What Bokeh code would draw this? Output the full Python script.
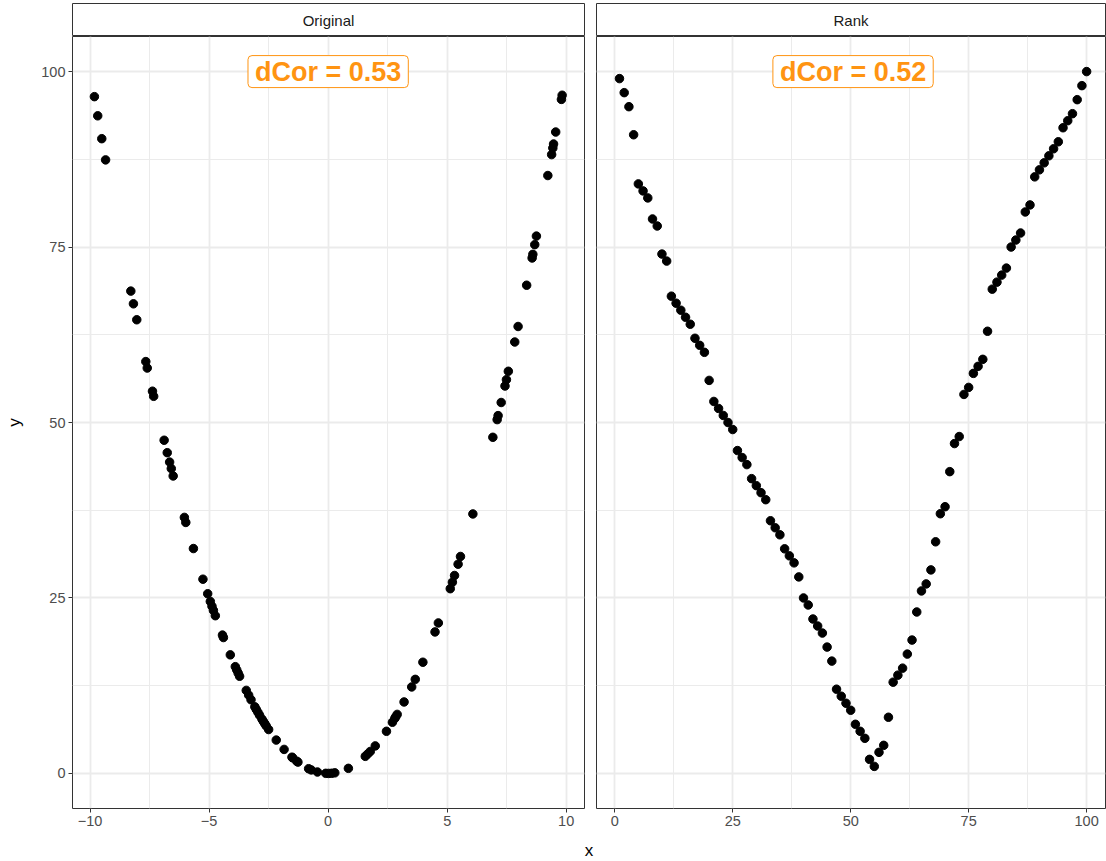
from bokeh.plotting import figure
from bokeh.layouts import row, column
from bokeh.models import Range1d, FixedTicker, Label, Grid
from bokeh.embed import file_html
from bokeh.resources import INLINE

# ---------------- data ----------------
x_orig = [-9.82, -9.68, -9.51, -9.35, -8.29, -8.18, -8.04, -7.66, -7.60, -7.38,
          -7.33, -6.89, -6.76, -6.66, -6.59, -6.51, -6.04, -5.98, -5.66, -5.26,
          -5.06, -4.95, -4.88, -4.82, -4.74, -4.44, -4.40, -4.11, -3.90, -3.84,
          -3.78, -3.72, -3.44, -3.34, -3.24, -3.08, -3.02, -2.95, -2.88, -2.78,
          -2.72, -2.66, -2.60, -2.50, -2.18, -1.85, -1.52, -1.49, -1.32, -1.27,
          -0.82, -0.71, -0.45, -0.10, 0.02, 0.15, 0.28, 0.85, 1.56, 1.66,
          1.77, 1.98, 2.45, 2.70, 2.80, 2.84, 2.90, 3.19, 3.51, 3.66,
          3.98, 4.49, 4.63, 5.13, 5.22, 5.31, 5.46, 5.56, 6.08, 6.92,
          7.10, 7.14, 7.27, 7.43, 7.49, 7.57, 7.84, 7.98, 8.34, 8.57,
          8.60, 8.68, 8.75, 9.23, 9.39, 9.44, 9.47, 9.56, 9.80, 9.83]

y_orig = [96.43, 93.70, 90.44, 87.42, 68.72, 66.91, 64.64, 58.68, 57.76, 54.46,
          53.73, 47.47, 45.70, 44.36, 43.43, 42.38, 36.48, 35.76, 32.04, 27.67,
          25.60, 24.50, 23.81, 23.23, 22.47, 19.71, 19.36, 16.89, 15.21, 14.75,
          14.29, 13.84, 11.83, 11.16, 10.50, 9.49, 9.12, 8.70, 8.29, 7.73,
          7.40, 7.08, 6.76, 6.25, 4.75, 3.42, 2.31, 2.22, 1.74, 1.61,
          0.67, 0.50, 0.20, 0.01, 0.0004, 0.02, 0.08, 0.72, 2.43, 2.76,
          3.13, 3.92, 6.00, 7.29, 7.84, 8.07, 8.41, 10.18, 12.32, 13.40,
          15.84, 20.16, 21.44, 26.32, 27.25, 28.20, 29.81, 30.91, 36.97, 47.89,
          50.41, 50.98, 52.85, 55.20, 56.10, 57.30, 61.47, 63.68, 69.56, 73.44,
          73.96, 75.34, 76.56, 85.19, 88.17, 89.11, 89.68, 91.39, 96.04, 96.63]

rank_x = [1, 2, 3, 4, 5, 6, 7, 8, 9, 10, 11, 12, 13, 14, 15, 16, 17, 18, 19, 20,
          21, 22, 23, 24, 25, 26, 27, 28, 29, 30, 31, 32, 33, 34, 35, 36, 37, 38, 39, 40,
          41, 42, 43, 44, 45, 46, 47, 48, 49, 50, 51, 52, 53, 54, 55, 56, 57, 58, 59, 60,
          61, 62, 63, 64, 65, 66, 67, 68, 69, 70, 71, 72, 73, 74, 75, 76, 77, 78, 79, 80,
          81, 82, 83, 84, 85, 86, 87, 88, 89, 90, 91, 92, 93, 94, 95, 96, 97, 98, 99, 100]

rank_y = [99, 97, 95, 91, 84, 83, 82, 79, 78, 74, 73, 68, 67, 66, 65, 64, 62, 61, 60, 56,
          53, 52, 51, 50, 49, 46, 45, 44, 42, 41, 40, 39, 36, 35, 34, 32, 31, 30, 28, 25,
          24, 22, 21, 20, 18, 16, 12, 11, 10, 9, 7, 6, 5, 2, 1, 3, 4, 8, 13, 14,
          15, 17, 19, 23, 26, 27, 29, 33, 37, 38, 43, 47, 48, 54, 55, 57, 58, 59, 63, 69,
          70, 71, 72, 75, 76, 77, 80, 81, 85, 86, 87, 88, 89, 90, 92, 93, 94, 96, 98, 100]

panel_titles = ["Original", "Rank"]
dcor_texts = ["dCor = 0.53", "dCor = 0.52"]
dcor_x = [0.0, 50.5]
dcor_y = [100, 100]

x_ticks_orig = [-10, -5, 0, 5, 10]
x_minor_orig = [-7.5, -2.5, 2.5, 7.5]
x_ticks_rank = [0, 25, 50, 75, 100]
x_minor_rank = [12.5, 37.5, 62.5, 87.5]
y_ticks = [0, 25, 50, 75, 100]
y_minor = [12.5, 37.5, 62.5, 87.5]

# ---------------- styling ----------------
FONT = "Liberation Sans"
ORANGE = "#FF9412"
GRID = "#EBEBEB"
DARK = "#333333"
TICKTXT = "#4D4D4D"

LEFT_W, RIGHT_W = 590, 516
STRIP_H, PLOT_H, XLAB_H = 36, 802, 23


def strip(title, width, mleft, mright):
    s = figure(width=width, height=STRIP_H, x_range=Range1d(0, 1), y_range=Range1d(0, 1),
               x_axis_location=None, y_axis_location=None, output_backend="svg",
               toolbar_location=None, min_border_left=mleft, min_border_right=mright,
               min_border_top=3, min_border_bottom=0)
    s.grid.visible = False
    s.outline_line_color = DARK
    s.outline_line_width = 1
    s.background_fill_color = "white"
    s.add_layout(Label(x=0.5, y=0.5, text=title, text_align="center", text_baseline="middle",
                       text_font=FONT, text_font_size="15px", text_color="#1A1A1A"))
    return s


def panel(xs, ys, xr, xticks, xminor, width, mleft, mright, show_y, ltxt, lx, ly):
    p = figure(width=width, height=PLOT_H, x_range=Range1d(*xr), y_range=Range1d(-5, 105),
               y_axis_location="left" if show_y else None,
               output_backend="svg", toolbar_location=None,
               min_border_left=mleft, min_border_right=mright,
               min_border_top=0, min_border_bottom=30)
    p.grid.visible = False
    for dim, t, m in ((0, xticks, xminor), (1, y_ticks, y_minor)):
        p.add_layout(Grid(dimension=dim, ticker=FixedTicker(ticks=t, minor_ticks=m),
                          grid_line_color=GRID, grid_line_width=1.8,
                          minor_grid_line_color=GRID, minor_grid_line_width=1.0))
    p.outline_line_color = DARK
    p.outline_line_width = 1
    p.background_fill_color = "white"

    p.xaxis.ticker = FixedTicker(ticks=xticks)
    axes = list(p.xaxis) + (list(p.yaxis) if show_y else [])
    for ax in axes:
        ax.axis_line_color = None
        ax.major_tick_in = 0
        ax.major_tick_out = 4
        ax.major_tick_line_color = DARK
        ax.minor_tick_line_color = None
        ax.major_label_text_font = FONT
        ax.major_label_text_font_size = "14.5px"
        ax.major_label_text_color = TICKTXT
        ax.major_label_standoff = 3
    if show_y:
        p.yaxis.ticker = FixedTicker(ticks=y_ticks)
        p.yaxis.axis_label = "y"
        p.yaxis.axis_label_text_font = FONT
        p.yaxis.axis_label_text_font_size = "17px"
        p.yaxis.axis_label_text_font_style = "normal"
        p.yaxis.axis_label_text_color = "black"
        p.yaxis.axis_label_standoff = 14

    p.scatter(xs, ys, size=8.5, color="black", marker="circle")
    p.add_layout(Label(x=lx, y=ly, text=ltxt, text_align="center", text_baseline="middle",
                       text_font=FONT, text_font_style="bold", text_font_size="27px",
                       text_color=ORANGE, background_fill_color="white",
                       border_line_color=ORANGE, border_line_width=1,
                       padding=dict(left=7, right=7, top=1, bottom=1), border_radius=4))
    return p


s1 = strip(panel_titles[0], LEFT_W, 72, 6)
s2 = strip(panel_titles[1], RIGHT_W, 6, 1)
p1 = panel(x_orig, y_orig, (-10.74, 10.77), x_ticks_orig, x_minor_orig, LEFT_W, 72, 6, True,
           dcor_texts[0], dcor_x[0], dcor_y[0])
p2 = panel(rank_x, rank_y, (-3.87, 104.0), x_ticks_rank, x_minor_rank, RIGHT_W, 6, 1, False,
           dcor_texts[1], dcor_x[1], dcor_y[1])

xl = figure(width=LEFT_W + RIGHT_W, height=XLAB_H, x_range=Range1d(0, LEFT_W + RIGHT_W),
            y_range=Range1d(0, XLAB_H), x_axis_location=None, y_axis_location=None,
            output_backend="svg", toolbar_location=None, min_border=0)
xl.grid.visible = False
xl.outline_line_color = None
xl.add_layout(Label(x=588.5, y=11, text="x", text_align="center", text_baseline="middle",
                    text_font=FONT, text_font_size="17px", text_color="black"))

layout = column(row(column(s1, p1), column(s2, p2)), xl)

with open("out.html", "w") as f:
    f.write(file_html(layout, INLINE))
